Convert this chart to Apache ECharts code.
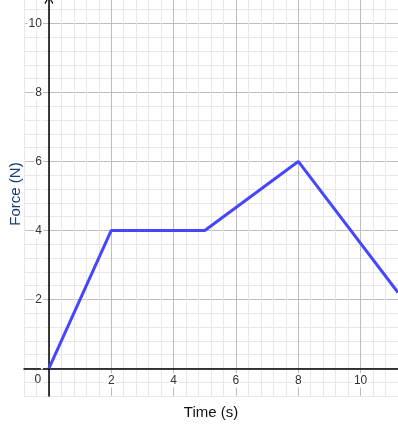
<!DOCTYPE html>
<html>
<head>
<meta charset="utf-8">
<script src="https://cdn.jsdelivr.net/npm/echarts@6/dist/echarts.min.js"></script>
<style>html,body{margin:0;padding:0;background:#fff}#c{width:398px;height:433px}</style>
</head>
<body>
<div id="c"></div>
<script>
var timeValues = [0, 2, 5, 8, 11.2];
var forceValues = [0, 4, 4, 6, 2.2];
var xTickLabels = [0, 2, 4, 6, 8, 10];
var yTickLabels = [2, 4, 6, 8, 10];

var FONT = '"Liberation Sans", Arial, sans-serif';
var MINOR = '#e8e8e8', MAJOR = '#bdbdbd';
var gridColors = [MINOR, MINOR, MAJOR, MINOR, MINOR];

function inList(v, list) {
  for (var i = 0; i < list.length; i++) if (Math.abs(v - list[i]) < 1e-6) return list[i];
  return null;
}

var chart = echarts.init(document.getElementById('c'), null, {renderer: 'canvas'});
chart.setOption({
  animation: false,
  grid: {left: 24, right: 0, top: 0, bottom: 37, containLabel: false, outerBoundsMode: 'none'},
  xAxis: {
    type: 'value', min: -0.8, max: 11.2, interval: 0.4,
    position: 'bottom', offset: -27.6,
    axisLine: {onZero: false, lineStyle: {color: '#000', width: 1.5}},
    axisTick: {show: false},
    splitLine: {show: true, showMaxLine: false, lineStyle: {color: gridColors, width: 1}},
    axisLabel: {
      margin: 5, color: '#333', fontSize: 12, fontFamily: FONT,
      showMaxLabel: false,
      formatter: function (v) {
        var t = inList(v, xTickLabels);
        if (t === null) return '';
        if (t === 0) return '{z|0}';
        return '{b|' + t + '}';
      },
      rich: {
        z: {padding: [0, 22, 0, 0], color: '#333', fontSize: 12, fontFamily: FONT},
        b: {backgroundColor: '#fff', padding: [1, 1], color: '#333', fontSize: 12, fontFamily: FONT}
      }
    },
    name: 'Time (s)', nameLocation: 'middle', nameGap: 37, nameMoveOverlap: false,
    nameTextStyle: {color: '#111', fontSize: 15, fontFamily: FONT}
  },
  yAxis: {
    type: 'value', min: -0.8, max: 10.68, interval: 0.4,
    position: 'left', offset: -24.9,
    axisLine: {onZero: false, lineStyle: {color: '#000', width: 1.5},
      symbol: ['none', 'path://M0,8 L5,0 L10,8 L9,9 L5,2.2 L1,9 Z'], symbolSize: [9, 8]},
    axisTick: {show: false},
    splitLine: {show: true, showMaxLine: false, lineStyle: {color: gridColors, width: 1}},
    axisLabel: {
      margin: 6, color: '#333', fontSize: 12, fontFamily: FONT,
      showMaxLabel: false,
      formatter: function (v) {
        var t = inList(v, yTickLabels);
        return t === null ? '' : String(t);
      },
      backgroundColor: '#fff', padding: [1, 1]
    },
    name: 'Force (N)', nameLocation: 'middle', nameGap: 26, nameMoveOverlap: false,
    nameTextStyle: {color: '#143a78', fontSize: 15, fontFamily: FONT, padding: [0, 0, 0, 8]}
  },
  series: [{
    type: 'line',
    data: timeValues.map(function (x, i) { return [x, forceValues[i]]; }),
    showSymbol: false, symbol: 'none',
    lineStyle: {color: '#4646ff', width: 3},
    clip: true
  }]
});
</script>
</body>
</html>
